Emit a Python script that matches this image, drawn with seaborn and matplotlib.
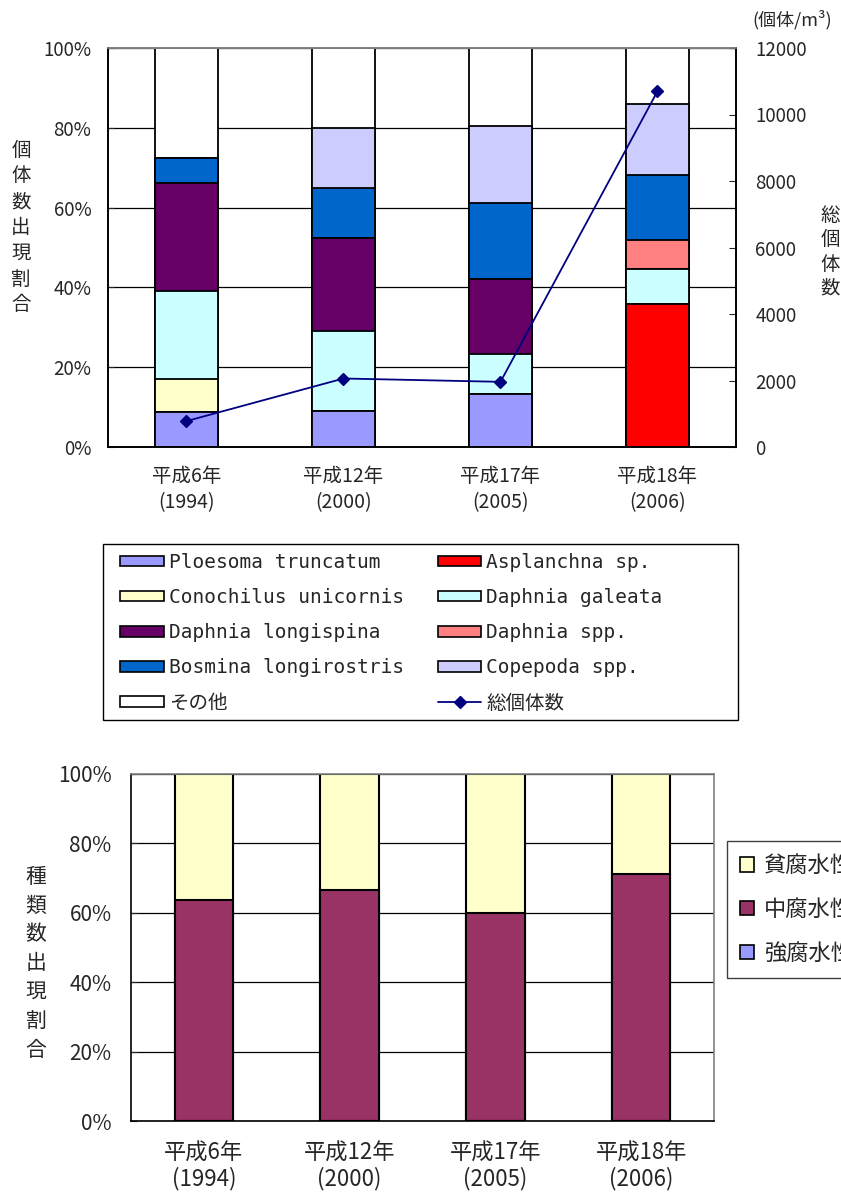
import numpy as np
import pandas as pd
import matplotlib
matplotlib.use('Agg')
import matplotlib.pyplot as plt
from matplotlib.patches import Patch, Rectangle
from matplotlib.lines import Line2D
import seaborn as sns

## datos
years = ['平成6年\n(1994)', '平成12年\n(2000)', '平成17年\n(2005)', '平成18年\n(2006)']

# porcentaje de individuos por especie (de abajo hacia arriba)
species = ['Ploesoma truncatum', 'Asplanchna sp.', 'Conochilus unicornis', 'Daphnia galeata',
           'Daphnia longispina', 'Daphnia spp.', 'Bosmina longirostris', 'Copepoda spp.', 'その他']
ploesoma = [8.8, 9.0, 13.2, 0.0]
asplanchna = [0.0, 0.0, 0.0, 35.8]
conochilus = [8.2, 0.0, 0.0, 0.0]
d_galeata = [22.2, 20.1, 10.1, 8.8]
d_longispina = [26.9, 23.2, 18.9, 0.0]
d_spp = [0.0, 0.0, 0.0, 7.3]
bosmina = [6.4, 12.6, 19.0, 16.3]
copepoda = [0.0, 15.1, 19.3, 17.8]
others = [27.5, 20.0, 19.5, 14.0]
total = [780, 2060, 1960, 10700]  # 総個体数 (個体/m3)

# saprobidad (porcentaje de especies)
sap_labels = ['強腐水性', '中腐水性', '貧腐水性']
strong = [0.0, 0.0, 0.0, 0.0]
meso = [63.7, 66.5, 59.8, 71.3]
oligo = [36.3, 33.5, 40.2, 28.7]

colors = {'Ploesoma truncatum': '#9999FF', 'Asplanchna sp.': '#FF0000',
          'Conochilus unicornis': '#FFFFCC', 'Daphnia galeata': '#CCFFFF',
          'Daphnia longispina': '#660066', 'Daphnia spp.': '#FF8080',
          'Bosmina longirostris': '#0066CC', 'Copepoda spp.': '#CCCCFF',
          'その他': '#FFFFFF'}
sap_colors = {'強腐水性': '#9999FF', '中腐水性': '#993366', '貧腐水性': '#FFFFCC'}

sns.set_style('white')
plt.rcParams['font.family'] = ['Noto Sans CJK JP', 'DejaVu Sans']

top = pd.DataFrame(dict(zip(species, [ploesoma, asplanchna, conochilus, d_galeata, d_longispina,
                                      d_spp, bosmina, copepoda, others])), index=years)
cum = top.cumsum(axis=1)

fig = plt.figure(figsize=(8.41, 11.98), dpi=100)
W, H = 841, 1198
ax1 = fig.add_axes([108 / W, 1 - 447 / H, 628 / W, 399 / H])
ax2 = ax1.twinx()
ax3 = fig.add_axes([131 / W, 1 - 1121 / H, 583 / W, 347 / H])

# GRAFICO 1: barras apiladas (se dibujan de arriba hacia abajo)
for sp in reversed(species):
    sns.barplot(x=years, y=cum[sp].values, color=colors[sp], edgecolor='black', linewidth=1.3,
                width=0.4, saturation=1, ax=ax1)

sns.pointplot(x=years, y=total, ax=ax2, color='#000080', markers='D', markersize=6,
              linewidth=1.3, errorbar=None)

ax1.set_ylim(0, 100)
ax1.set_yticks(range(0, 101, 20), [f'{v}%' for v in range(0, 101, 20)])
ax1.set_xlim(-0.5, 3.5)
ax1.set_xticks(range(4), years)
ax1.set_xticks([0.5, 1.5, 2.5], minor=True)
ax1.tick_params(axis='x', which='major', length=0, pad=14, labelsize=14)
ax1.tick_params(axis='x', which='minor', length=5, direction='in', width=1)
ax1.tick_params(axis='y', direction='in', length=4, pad=12, labelsize=13.5, left=True)
for t in ax1.get_xticklabels():
    t.set_linespacing(1.3)
ax1.yaxis.grid(True, color='black', linewidth=0.9)
ax1.set_axisbelow(True)
ax1.set_xlabel('')
ax1.set_ylabel('個\n体\n数\n出\n現\n割\n合', rotation=0, fontsize=14, linespacing=1.3,
               va='center', ha='center', labelpad=0)
ax1.yaxis.set_label_coords(-87 / 628, 0.55)

ax2.set_ylim(0, 12000)
ax2.set_yticks(range(0, 12001, 2000))
ax2.tick_params(axis='y', direction='in', length=5, pad=14, labelsize=13.5, right=True)
ax2.set_xlim(-0.5, 3.5)
ax2.set_xlabel('')
ax2.set_ylabel('')

for a in (ax1, ax2):
    for s in a.spines.values():
        s.set_color('black')
        s.set_linewidth(1.2)
    a.spines['top'].set_color('#808080')

fig.text(830 / W, 1 - 252 / H, '総\n個\n体\n数', fontsize=14, ha='center', va='center', linespacing=1.2)
fig.text(792 / W, 1 - 20 / H, '(個体/m³)', fontsize=13, ha='center', va='center')

# leyenda grafico 1
order = ['Ploesoma truncatum', 'Conochilus unicornis', 'Daphnia longispina', 'Bosmina longirostris', 'その他',
         'Asplanchna sp.', 'Daphnia galeata', 'Daphnia spp.', 'Copepoda spp.']
handles = [Patch(facecolor=colors[sp], edgecolor='black', linewidth=1.2) for sp in order]
handles.append(Line2D([], [], color='#000080', marker='D', markersize=6, linewidth=1.3))
labels = order + ['総個体数']
leg = fig.legend(handles, labels, ncol=2, loc='upper left',
                 bbox_to_anchor=(120 / W, 1 - 553 / H), borderaxespad=0, borderpad=0,
                 prop={'family': ['DejaVu Sans Mono', 'Noto Sans CJK JP'], 'size': 14},
                 handlelength=2.25, handleheight=0.45, handletextpad=0.25, labelspacing=0.83,
                 columnspacing=1.75, frameon=False)
fig.add_artist(Rectangle((103 / W, 1 - 720 / H), 635 / W, 176 / H, transform=fig.transFigure,
                         fill=False, edgecolor='black', linewidth=1))

# GRAFICO 2: saprobidad
sap = pd.DataFrame({'強腐水性': strong, '中腐水性': meso, '貧腐水性': oligo}, index=years)
sap_cum = sap.cumsum(axis=1)
for lab in reversed(sap_labels):
    sns.barplot(x=years, y=sap_cum[lab].values, color=sap_colors[lab], edgecolor='black', linewidth=1.5,
                width=0.4, saturation=1, ax=ax3)

ax3.set_ylim(0, 100)
ax3.set_yticks(range(0, 101, 20), [f'{v}%' for v in range(0, 101, 20)])
ax3.set_xlim(-0.5, 3.5)
ax3.set_xticks(range(4), years)
ax3.set_xticks([0.5, 1.5, 2.5], minor=True)
ax3.tick_params(axis='x', which='major', length=0, pad=15, labelsize=16)
ax3.tick_params(axis='x', which='minor', length=5, direction='in', width=1)
ax3.tick_params(axis='y', direction='in', length=4, pad=14, labelsize=15, left=True)
for t in ax3.get_xticklabels():
    t.set_linespacing(1.1)
ax3.yaxis.grid(True, color='black', linewidth=0.9)
ax3.set_axisbelow(True)
ax3.set_xlabel('')
ax3.set_ylabel('種\n類\n数\n出\n現\n割\n合', rotation=0, fontsize=15, linespacing=1.4,
               va='center', ha='center', labelpad=0)
ax3.yaxis.set_label_coords(-95 / 583, 0.455)
for s in ax3.spines.values():
    s.set_color('black')
    s.set_linewidth(1.2)
ax3.spines['top'].set_color('#808080')
ax3.spines['right'].set_color('#808080')

# leyenda grafico 2 (recortada por el borde, como en el original)
sap_handles = [Patch(facecolor=sap_colors[l], edgecolor='black', linewidth=1.2) for l in reversed(sap_labels)]
leg2 = fig.legend(sap_handles, list(reversed(sap_labels)), loc='upper left',
                  bbox_to_anchor=(727 / W, 1 - 841 / H), borderaxespad=0, fontsize=16,
                  handlelength=0.6, handleheight=0.6, handletextpad=0.45, labelspacing=0.93,
                  borderpad=0.6, fancybox=False, edgecolor='#404040', framealpha=1)
leg2.get_frame().set_linewidth(1)

plt.savefig('out.png', dpi=100)
